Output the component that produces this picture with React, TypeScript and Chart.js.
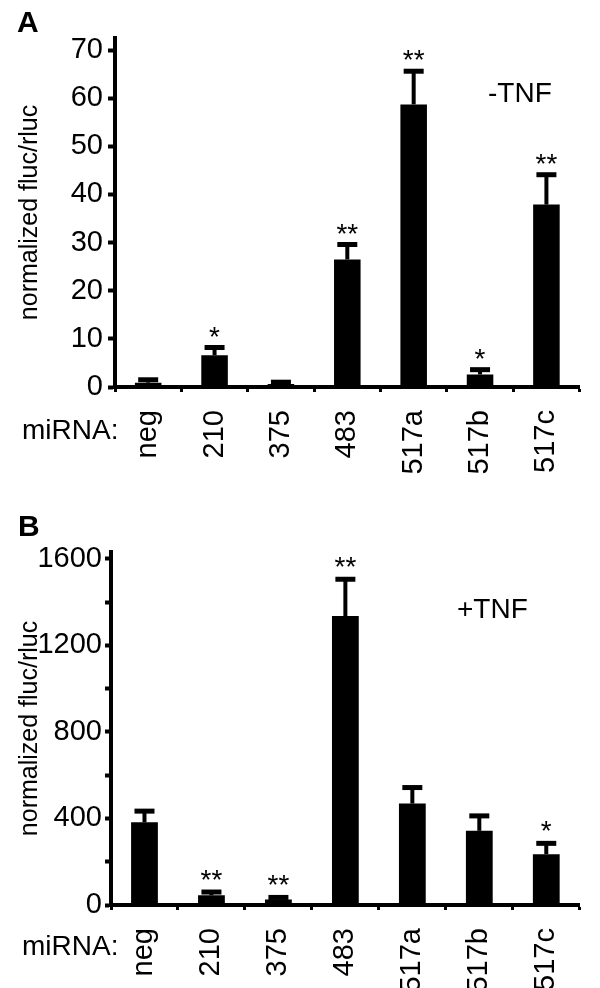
import React, { useEffect, useRef } from 'react';
import { Chart, registerables } from 'chart.js';

Chart.register(...registerables);

const FONT = "'Liberation Sans', Arial, Helvetica, sans-serif";

// ----- data -----
const categories = ['neg', '210', '375', '483', '517a', '517b', '517c'];

const valuesMinusTNF = [0.9, 6.6, 0.6, 26.5, 58.7, 2.6, 37.9];
const errorsMinusTNF = [0.6, 1.6, 0.4, 3.1, 6.9, 1.0, 6.2];
const starsMinusTNF = ['', '*', '', '**', '**', '*', '**'];
const yTicksMinusTNF = [0, 10, 20, 30, 40, 50, 60, 70];
const yLabelsMinusTNF = [0, 10, 20, 30, 40, 50, 60, 70];

const valuesPlusTNF = [382, 45, 26, 1336, 469, 343, 235];
const errorsPlusTNF = [52, 15, 9, 170, 74, 69, 50];
const starsPlusTNF = ['', '**', '**', '**', '', '', '*'];
const yTicksPlusTNF = [0, 200, 400, 600, 800, 1000, 1200, 1400, 1600];
const yLabelsPlusTNF = [0, 400, 800, 1200, 1600];

type PanelCfg = {
  top: number;
  letter: string;
  letterPos: [number, number];
  condition: string;
  conditionPos: [number, number];
  miRNAY: number;
  values: number[];
  errors: number[];
  stars: string[];
  yTicks: number[];
  yLabels: number[];
  yMax: number;
  axisLeft: number;
  padTop: number;
  padRight: number;
  xHeight: number;
  tickLen: number;
  tickPad: number;
  starOffset: number;
};

const panels: PanelCfg[] = [
  {
    top: 0,
    letter: 'A',
    letterPos: [17, 32],
    condition: '-TNF',
    conditionPos: [488, 102],
    miRNAY: 439,
    values: valuesMinusTNF,
    errors: errorsMinusTNF,
    stars: starsMinusTNF,
    yTicks: yTicksMinusTNF,
    yLabels: yLabelsMinusTNF,
    yMax: 72.5,
    axisLeft: 115,
    padTop: 38,
    padRight: 11,
    xHeight: 107,
    tickLen: 7,
    tickPad: 5,
    starOffset: 2,
  },
  {
    top: 494,
    letter: 'B',
    letterPos: [18, 42],
    condition: '+TNF',
    conditionPos: [457, 124],
    miRNAY: 955,
    values: valuesPlusTNF,
    errors: errorsPlusTNF,
    stars: starsPlusTNF,
    yTicks: yTicksPlusTNF,
    yLabels: yLabelsPlusTNF,
    yMax: 1632,
    axisLeft: 111,
    padTop: 58,
    padRight: 13,
    xHeight: 83,
    tickLen: 6,
    tickPad: 3,
    starOffset: 3,
  },
];

function makeOverlay(cfg: PanelCfg) {
  return {
    id: 'overlay' + cfg.letter,
    afterDatasetsDraw(chart: any) {
      const ctx = chart.ctx as CanvasRenderingContext2D;
      const meta = chart.getDatasetMeta(0);
      const yScale = chart.scales.y;
      ctx.save();
      ctx.strokeStyle = '#000';
      ctx.fillStyle = '#000';
      ctx.lineCap = 'butt';
      meta.data.forEach((bar: any, i: number) => {
        const v = cfg.values[i];
        const e = cfg.errors[i];
        const base = yScale.getPixelForValue(v);
        const top = yScale.getPixelForValue(v + e);
        ctx.lineWidth = 4;
        ctx.beginPath();
        ctx.moveTo(bar.x, base);
        ctx.lineTo(bar.x, top);
        ctx.stroke();
        ctx.lineWidth = 5;
        ctx.beginPath();
        ctx.moveTo(bar.x - 10, top);
        ctx.lineTo(bar.x + 10, top);
        ctx.stroke();
        if (cfg.stars[i]) {
          ctx.font = `28px ${FONT}`;
          ctx.textAlign = 'center';
          ctx.textBaseline = 'alphabetic';
          ctx.fillText(cfg.stars[i], bar.x, top - cfg.starOffset);
        }
      });
      ctx.textAlign = 'left';
      ctx.textBaseline = 'alphabetic';
      ctx.font = `bold 30px ${FONT}`;
      ctx.fillText(cfg.letter, cfg.letterPos[0], cfg.letterPos[1]);
      ctx.font = `28px ${FONT}`;
      ctx.fillText(cfg.condition, cfg.conditionPos[0], cfg.conditionPos[1]);
      ctx.fillText('miRNA:', 22, cfg.miRNAY - cfg.top);
      ctx.restore();
    },
  };
}

function Panel({ cfg }: { cfg: PanelCfg }) {
  const ref = useRef<HTMLCanvasElement | null>(null);
  useEffect(() => {
    if (!ref.current) return;
    const chart = new Chart(ref.current, {
      type: 'bar',
      data: {
        labels: categories,
        datasets: [
          {
            data: cfg.values,
            backgroundColor: '#000',
            borderWidth: 0,
            categoryPercentage: 1,
            barPercentage: 0.4,
          },
        ],
      },
      options: {
        responsive: false,
        animation: false,
        events: [],
        layout: { padding: { left: 0, right: cfg.padRight, top: cfg.padTop, bottom: 0 } },
        plugins: { legend: { display: false }, tooltip: { enabled: false } },
        scales: {
          x: {
            type: 'category',
            afterFit: (s: any) => {
              s.height = cfg.xHeight;
            },
            ticks: {
              font: { family: FONT, size: 29 },
              color: '#000',
              minRotation: 90,
              maxRotation: 90,
              autoSkip: false,
              padding: 18,
            },
            grid: {
              drawOnChartArea: false,
              drawTicks: true,
              offset: true,
              tickLength: 5,
              tickWidth: 3,
              tickColor: '#000',
              color: '#000',
            },
            border: { display: true, color: '#000', width: 4 },
          },
          y: {
            type: 'linear',
            min: 0,
            max: cfg.yMax,
            afterBuildTicks: (s: any) => {
              s.ticks = cfg.yTicks.map((v) => ({ value: v }));
            },
            afterFit: (s: any) => {
              s.width = cfg.axisLeft;
            },
            ticks: {
              font: { family: FONT, size: 29 },
              color: '#000',
              padding: cfg.tickPad,
              callback: (v: any) => (cfg.yLabels.includes(Number(v)) ? String(v) : ''),
            },
            grid: {
              drawOnChartArea: false,
              drawTicks: true,
              tickLength: cfg.tickLen,
              tickWidth: 4,
              tickColor: '#000',
              color: '#000',
            },
            border: { display: true, color: '#000', width: 4 },
            title: {
              display: true,
              text: 'normalized fluc/rluc',
              color: '#000',
              font: { family: FONT, size: 25 },
              padding: { top: 15, bottom: 0 },
            },
          },
        },
      },
      plugins: [makeOverlay(cfg)],
    } as any);
    return () => chart.destroy();
  }, [cfg]);
  return (
    <div style={{ position: 'absolute', left: 0, top: cfg.top, width: 600, height: 494 }}>
      <canvas ref={ref} width={600} height={494} style={{ display: 'block', width: 600, height: 494 }} />
    </div>
  );
}

export default function App() {
  return (
    <div style={{ position: 'absolute', left: 0, top: 0, width: 600, height: 988, background: '#fff', overflow: 'hidden' }}>
      {panels.map((p) => (
        <Panel key={p.letter} cfg={p} />
      ))}
    </div>
  );
}
